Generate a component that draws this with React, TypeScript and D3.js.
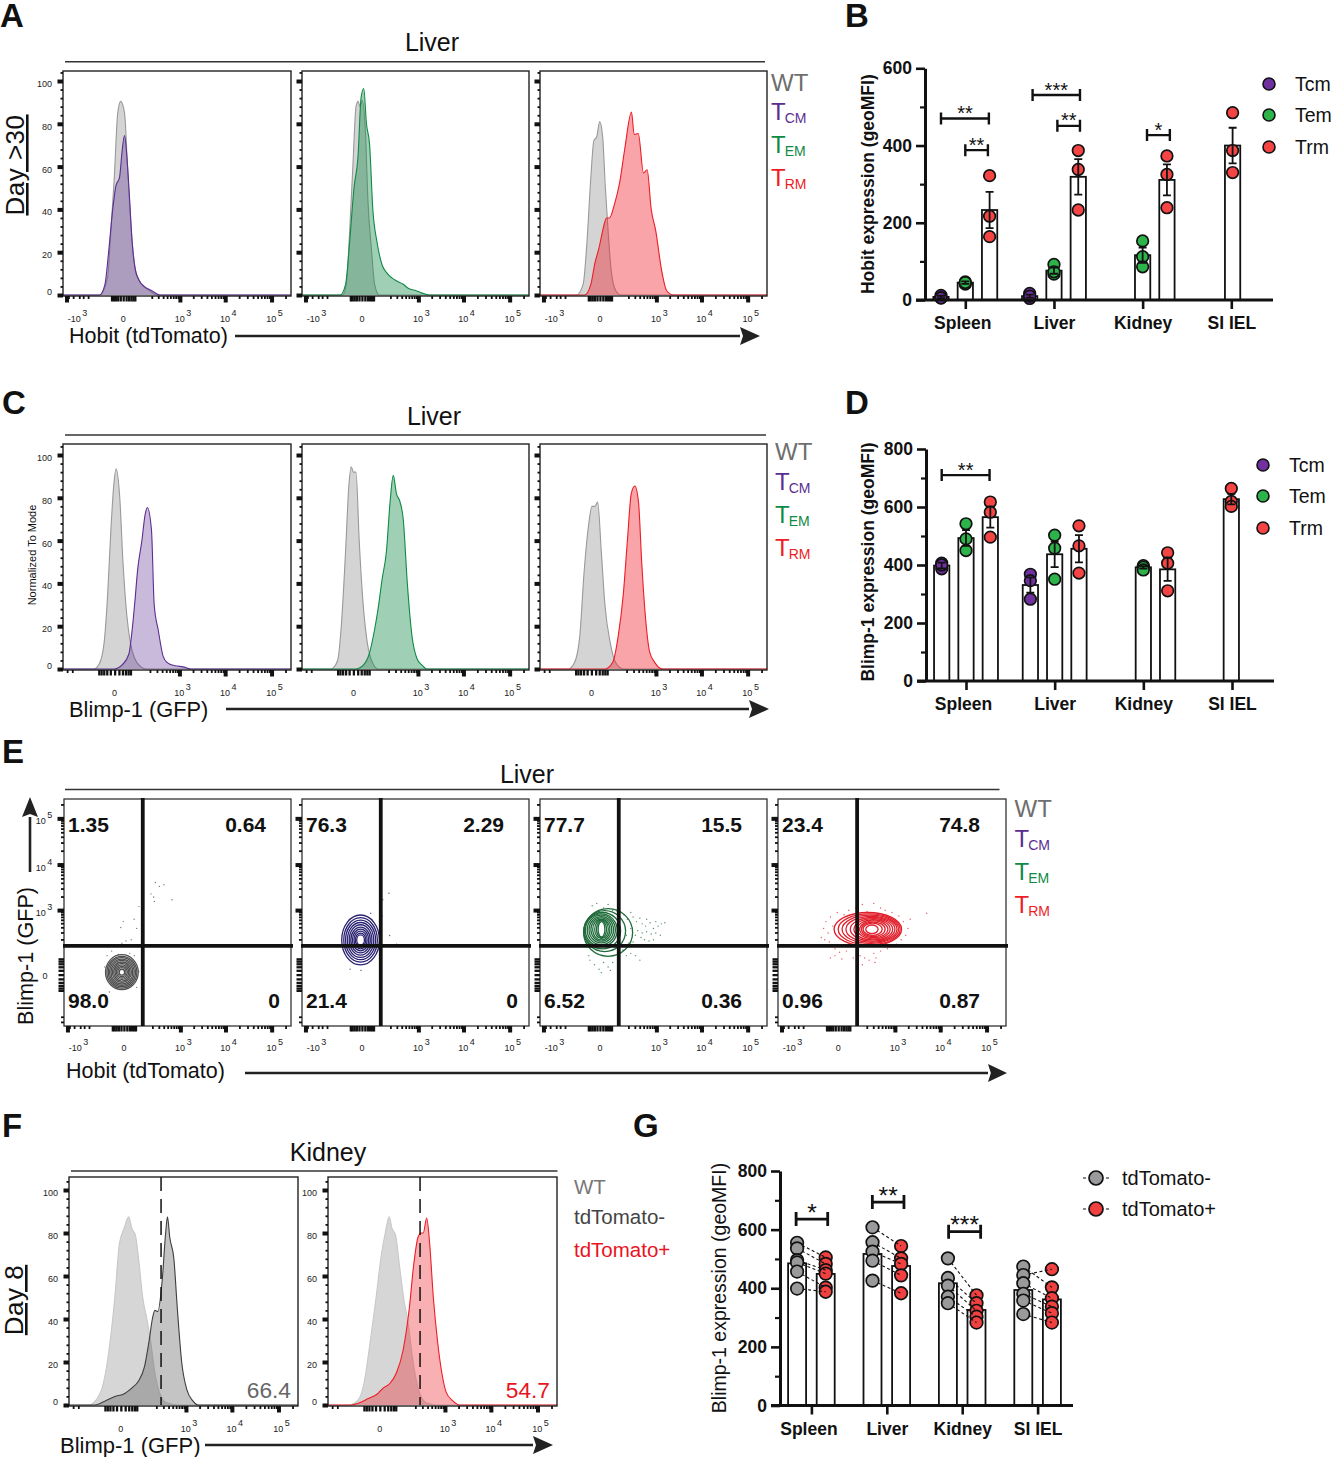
import React, { useEffect, useRef } from 'react'
import * as d3 from 'd3'

const FONT = "'Liberation Sans', Arial, sans-serif"

const WT_COLOR = '#6e6e6e'
const TCM_COLOR = '#5b2d91'
const TEM_COLOR = '#0f8a45'
const TRM_COLOR = '#ee1c25'

// histogram curves: [channel 0-100 along the axis, % of mode]
const aWtTcm = [[0,0],[16,0],[19.5,8],[21,30],[22.5,55],[24,85],[25.3,90.5],[27,85],[28.3,60],[30,30],[31.7,12],[34.5,5],[38,2],[41,0],[100,0]]
const aTcm = [[0,0],[16,0],[18.4,5],[20,20],[21.8,40],[23.2,51],[24.8,55],[26,68],[27,74.5],[28,65],[29.2,45],[30.3,25],[31.7,12],[33.3,7],[35.6,4],[39,2],[42.5,0],[100,0]]
const aWtTem = [[0,0],[18,0],[19.6,6],[21,30],[22.4,60],[23.8,88],[24.7,90.5],[25.6,88],[26.5,91],[28,75],[29,45],[30.7,20],[32,5],[34,0],[100,0]]
const aTem = [[0,0],[16.8,0],[19.2,5],[21,25],[22.9,50],[24.7,65],[26,92],[27.2,96.5],[28.4,80],[29.8,70],[31.2,40],[33,25],[35.3,14],[37.6,10],[41,7],[44.6,5],[47,3],[50.3,2],[52.7,1],[56,0],[100,0]]
const aWtTrm = [[0,0],[16,0],[19,5],[20.7,25],[22.4,55],[23.7,72],[25,74],[26.3,81],[27.6,74],[28.8,50],[30,30],[31.3,12],[33.4,2],[35.7,0],[100,0]]
const aTrm = [[0,0],[19.6,0],[22.4,5],[24.2,15],[26,22],[27.6,30],[29.3,36],[30.6,36],[32.7,42],[35,52],[37.3,68],[40.3,85.5],[41.5,75],[43.3,75.5],[45.6,57],[47.2,58.5],[49,40],[51,30],[53.5,12],[55.8,2],[58.8,0],[100,0]]

const cWtTcm = [[0,0],[13.4,0],[15.7,2],[18,12],[19.6,35],[21,65],[22.2,85],[23.3,93.5],[24.9,80],[26.3,50],[28,25],[29.6,12],[31.4,5],[34.2,1],[36.5,0],[100,0]]
const cTcm = [[0,0],[22.6,0],[26,2],[28.9,7],[30.3,18],[31.4,30],[32.8,47],[34.6,60],[36,72],[37,75.5],[38.8,65],[40,30],[41.8,18],[43.9,6],[45.7,3],[49.2,1.5],[52.6,1],[56,0],[100,0]]
const cWtTem = [[0,0],[12.7,0],[15.7,4],[17.3,20],[19.2,55],[20.6,85],[21.7,94.5],[22.6,92],[23.8,92],[25.2,60],[26.6,35],[28.4,15],[30.3,5],[33.5,0],[100,0]]
const cTem = [[0,0],[23.8,0],[27.2,2],[29.6,7],[31.9,18],[33.5,28],[35.3,42],[37.2,55],[38.8,78],[40.2,90.5],[41.6,82],[43.2,78],[44.6,70],[46.4,40],[48.5,15],[50.6,5],[52.7,2],[55,0],[100,0]]
const cWtTrm = [[0,0],[12.5,0],[15.2,3],[17.5,15],[19.4,45],[21.5,68],[22.9,76],[24.2,76],[25.4,78],[27,55],[28.6,30],[31,12],[33.3,3],[36.7,0],[100,0]]
const cTrm = [[0,0],[28.6,0],[32,3],[34.4,15],[36.7,35],[38.5,60],[40.2,82],[41.8,85.5],[43.4,78],[44.8,50],[46.4,25],[48.3,8],[50.6,3],[54,0],[100,0]]

const fWtNeg = [[0,0],[8.5,0],[12.3,3],[15,10],[18,30],[20,50],[22,75],[24,82],[26.1,87.5],[27.5,82],[29,79],[30.7,65],[32.2,50],[34,40],[35.6,30],[37.5,15],[39.8,5],[42.6,1],[47.3,0],[100,0]]
const fNeg = [[0,0],[11.4,0],[16,2],[20,4],[23.7,5],[27.5,8],[30.3,11],[33,18],[35,30],[36.4,40],[37.5,44],[38.8,43.5],[40.7,58],[42.2,80],[43,87.5],[44,78],[45.8,68],[47.3,45],[49.2,20],[51.5,7],[54,2],[56.4,0],[100,0]]
const fWtPos = [[0,0],[9,0],[12.9,2],[15.7,10],[18.5,30],[21,50],[23.3,70],[25,80],[26.7,87.5],[28,82],[29.5,79],[31.2,65],[33,50],[35,38],[36.9,22],[39.3,8],[43,1],[46.9,0],[100,0]]
const fPos = [[0,0],[10,0],[13.8,1],[17.6,3],[21.4,5],[24.2,8],[27,10],[29.9,15],[32.7,25],[35.5,45],[37.4,65],[39.3,78],[40.6,80],[41.6,80],[43.1,87],[44.4,75],[46,50],[47.8,30],[49.7,15],[51.6,6],[54.4,2],[57.3,0],[100,0]]

// flow axis ticks
const flowDecades = [-1000, 1000, 10000, 100000]
const flowNearZero = [-50, -40, -30, -20, -10, 0, 10, 20, 30, 40, 50]
const flowMinor = [-900, -700, -500, -400, -300, 200, 300, 400, 500, 600, 700, 800, 900, 2000, 3000, 4000, 5000, 6000, 7000, 8000, 9000, 20000, 30000, 40000, 50000, 60000, 70000, 80000, 90000, 200000]
const pctMajor = [0, 20, 40, 60, 80, 100]
const pctMinor = [4, 8, 12, 16, 24, 28, 32, 36, 44, 48, 52, 56, 64, 68, 72, 76, 84, 88, 92, 96, 104]

// quadrant gates and contours: [cx, cy, rx, ry] in axis channels
const gateX = 34.7
const gateY = 35.3
const wtRings = [[25.5,23.7,7.2,7.7],[25.5,23.7,6.6,7],[25.5,23.7,6,6.4],[25.5,23.7,5.4,5.8],[25.5,23.7,4.8,5.2],[25.5,23.7,4.2,4.5],[25.5,23.7,3.6,3.9],[25.5,23.7,3,3.2],[25.5,23.7,2.4,2.6],[25.5,23.7,1.8,2],[25.5,23.7,1.2,1.3]]
const tcmRings = [[25.8,37.9,8.3,11],[25.8,37.9,7.4,9.8],[25.8,37.9,6.6,8.7],[25.8,37.9,5.8,7.7],[25.8,37.9,5,6.7],[25.8,37.9,4.3,5.7],[25.8,37.9,3.6,4.8],[25.8,37.9,2.9,3.9],[25.8,37.9,2.3,3],[25.8,37.9,1.7,2.2]]
const temRings = [[30,41.2,10.8,10.5],[28.5,41.8,9.2,9],[27.5,42,8,8],[27,42.2,7,7.2],[27,42.3,6.2,6.5],[27,42.4,5.4,5.8],[27,42.5,4.6,5.1],[27,42.5,3.8,4.6],[27.1,42.6,3,4.1],[27.1,42.6,2.2,3.7],[27.1,42.6,1.5,3.4]]
const trmRings = [[39.4,42.6,14.8,7.4],[40,42.6,13.6,6.8],[40.5,42.6,12.4,6.2],[41,42.6,11.2,5.7],[41.5,42.6,9.8,5.2],[41.8,42.6,8.5,4.7],[42,42.6,7.2,4.2],[42,42.6,6.2,3.7],[41.8,42.6,5.2,3.2],[41.5,42.6,4.2,2.7],[41.2,42.6,2.7,1.9]]

// outlier events of each contour plot, in axis channels
const wtDots = [[33,52.6],[30.9,47],[26.1,46],[25,43.4],[32,43],[29.6,38],[27.3,37.5],[25.5,36.5],[40.3,63.2],[44,62.2],[42,61.5],[38.3,58.2],[39.8,54.9],[39.5,56.8],[47.6,55.6],[18,26],[19,31],[21,33],[31,31],[33,24],[32,17],[20,15],[24,31.5],[29,32]]
const tcmDots = [[38.3,58.5],[35.6,55.6],[35.3,48.5],[38.6,39.9],[41.7,36],[21.2,25],[30.3,49.7],[26,24.5]]
const temDots = [[37,49],[38.5,47],[40,50],[41,48],[42.5,46],[44,47.5],[45,45],[46.5,44],[47,47],[48.5,45.5],[50,43],[51,46],[52,44],[53.5,45],[55,45.5],[43,42],[45,41],[47,41.5],[49,40.5],[51,41],[53,40],[44.5,39],[46,38],[48,37.5],[50,38],[41,37],[42,40],[40,43],[38,40],[39,36.5],[36.5,33.5],[38,31],[40,32],[42,31],[44,29],[23,53],[25,54],[28,52],[30,53.5],[32,51],[34,50.5],[22,29],[24,27],[26,25],[28,28],[30,26],[32,28],[27,23.5],[31,24.5],[21.5,31]]
const trmDots = [[19,39],[20,43],[21,46],[22,41],[23,48],[24,44],[22.5,37],[24,35],[25,34],[20.5,38],[26,50],[29,49],[31,51],[34,52],[37,53.5],[39,50.5],[42,54],[45,52],[47,51],[50,50],[53,48.5],[55,46],[57,43],[56,40],[58,47],[54,38],[52,36],[65.2,49.7],[25,31],[27,32.5],[30,33],[33,30],[36,31],[38,30],[40,29],[42,32],[43,30],[42.5,28],[37,27],[45,33],[48,34],[23,30],[28,29.5]]

const eTitles = [['1.35', '0.64', '98.0', '0'], ['76.3', '2.29', '21.4', '0'], ['77.7', '15.5', '6.52', '0.36'], ['23.4', '74.8', '0.96', '0.87']]

// bar panels
const organs = ['Spleen', 'Liver', 'Kidney', 'SI IEL']
const subsets = ['Tcm', 'Tem', 'Trm']
const subsetFill = ['#7030a0', '#2cb34a', '#f44444']

const hobitMeans = [[8, 10, null, null], [45, 76, 116, null], [233, 319, 311, 400]]
const hobitErrs = [[3, 4, 0, 0], [3, 8, 20, 0], [47, 46, 40, 46]]
const hobitPoints = [
  [[12, 6, 5], [17, 4, 10], [], []],
  [[47, 41, 45], [92, 67, 73], [153, 112, 86], []],
  [[322, 217, 164], [387, 338, 233], [373, 325, 239], [485, 387, 330]],
]
const hobitBrackets = [
  [0, -1, 0.97, 470, '**'],
  [0, 0, 0.93, 388, '**'],
  [1, -0.88, 1.07, 531, '***'],
  [1, 0.14, 1.07, 451, '**'],
  [2, 0.18, 1.12, 427, '*'],
]

const blimpMeans = [[398, 331, null, null], [493, 437, 392, null], [565, 456, 385, 627]]
const blimpErrs = [[10, 26, 0, 0], [27, 44, 4, 0], [36, 47, 40, 18]]
const blimpPoints = [
  [[406, 387, 400], [368, 346, 282], [], []],
  [[542, 490, 450], [503, 458, 351], [398, 392, 383], []],
  [[617, 582, 496], [535, 466, 372], [442, 406, 311], [664, 619, 602]],
]
const blimpBrackets = [[0, -1, 0.97, 710, '**']]

const pairedNegMeans = [485, 517, 417, 394]
const pairedPosMeans = [449, 476, 326, 362]
const pairedNeg = [[555, 536, 496, 488, 457, 399], [608, 557, 525, 494, 426], [502, 435, 409, 371, 349], [474, 445, 417, 381, 358, 312]]
const pairedPos = [[505, 483, 462, 450, 402, 388], [544, 502, 483, 444, 383], [376, 349, 323, 303, 283], [403, 465, 366, 337, 315, 283]]
const pairedBrackets = [[0, -1.07, 1.14, 636, '*'], [1, -1.01, 1.2, 694, '**'], [2, -0.95, 1.29, 593, '***']]

type Sel = d3.Selection<any, unknown, null, undefined>
type Layer = { data: number[][]; fill: string; fillOpacity: number; stroke: string; strokeWidth?: number }

function addText(g: Sel, x: number, y: number, s: string, size: number, opts: any = {}) {
  const t = g
    .append('text')
    .attr('x', x)
    .attr('y', y)
    .attr('font-family', FONT)
    .attr('font-size', size)
    .attr('font-weight', opts.weight ?? 'normal')
    .attr('fill', opts.fill ?? '#111')
    .attr('text-anchor', opts.anchor ?? 'start')
    .text(s)
  if (opts.rotate) t.attr('transform', `rotate(-90 ${x} ${y})`)
  if (opts.underline) t.attr('text-decoration', 'underline')
  if (opts.spacing) t.attr('letter-spacing', opts.spacing)
  return t
}

function arrow(g: Sel, x0: number, y0: number, x1: number, y1: number, head: number, w: number) {
  const ang = Math.atan2(y1 - y0, x1 - x0)
  const bx = x1 - Math.cos(ang) * head
  const by = y1 - Math.sin(ang) * head
  g.append('line').attr('x1', x0).attr('y1', y0).attr('x2', bx).attr('y2', by).attr('stroke', '#222').attr('stroke-width', 2.6)
  const nx = -Math.sin(ang) * w
  const ny = Math.cos(ang) * w
  const notchx = x1 - Math.cos(ang) * head * 0.85
  const notchy = y1 - Math.sin(ang) * head * 0.85
  g.append('path')
    .attr('d', `M${x1},${y1}L${bx + nx},${by + ny}L${notchx},${notchy}L${bx - nx},${by - ny}Z`)
    .attr('fill', '#222')
}

function rule(g: Sel, x0: number, x1: number, y: number) {
  g.append('line').attr('x1', x0).attr('x2', x1).attr('y1', y).attr('y2', y).attr('stroke', '#333').attr('stroke-width', 1.4)
}

function subsetLegend(g: Sel, x: number, ys: number[]) {
  addText(g, x, ys[0], 'WT', 24, { fill: WT_COLOR })
  const rows = [['CM', TCM_COLOR], ['EM', TEM_COLOR], ['RM', TRM_COLOR]]
  rows.forEach(([sub, color], i) => {
    const t = addText(g, x, ys[i + 1], 'T', 24, { fill: color })
    t.append('tspan').attr('font-size', 14).attr('dy', 3).attr('dx', -1).text(sub)
  })
}

function flowScale(kind: 'wide' | 'narrow', range: number[]) {
  if (kind === 'wide') return d3.scaleSymlog().constant(64).domain([-1200, 262144]).range(range)
  return d3.scaleSymlog().constant(42).domain([-500, 262144]).range(range)
}

function flowAxis(g: Sel, scale: any, side: 'bottom' | 'left', kind: 'wide' | 'narrow') {
  const make = side === 'bottom' ? d3.axisBottom : d3.axisLeft
  const low = kind === 'wide' ? -1200 : -500
  const sets = [
    { values: flowMinor.filter((v) => v > low), size: 3, width: 1.8 },
    { values: flowNearZero, size: 5.5, width: 2.3 },
    { values: flowDecades.filter((v) => v > low), size: 6.5, width: 4 },
  ]
  sets.forEach((s) => {
    const a = g.append('g').call(
      make(scale)
        .tickValues(s.values)
        .tickSize(s.size)
        .tickFormat(() => '') as any
    )
    a.select('.domain').remove()
    a.selectAll('line').attr('stroke', '#111').attr('stroke-width', s.width)
  })
}

function powerLabel(g: Sel, x: number, y: number, base: string, exp: string) {
  const t = addText(g, x, y, base, 9, { anchor: 'middle', fill: '#222' })
  t.append('tspan').attr('dx', 1.5).attr('dy', -6).text(exp)
}

function flowLabels(g: Sel, scale: any, kind: 'wide' | 'narrow', y: number) {
  if (kind === 'wide') powerLabel(g, scale(-1000) + 11, y, '-10', '3')
  addText(g, scale(0), y, '0', 9, { anchor: 'middle', fill: '#222' })
  powerLabel(g, scale(1000) + 3, y, '10', '3')
  powerLabel(g, scale(10000) + 3, y, '10', '4')
  powerLabel(g, scale(100000) + 3, y, '10', '5')
}

function pctAxis(g: Sel, y: any, labels: boolean, labelRight: number) {
  const minor = g.append('g').call(d3.axisLeft(y).tickValues(pctMinor).tickSize(2.5).tickFormat(() => '') as any)
  minor.select('.domain').remove()
  minor.selectAll('line').attr('stroke', '#111').attr('stroke-width', 1.8)
  const major = g.append('g').call(d3.axisLeft(y).tickValues(pctMajor).tickSize(5.5).tickFormat(() => '') as any)
  major.select('.domain').remove()
  major.selectAll('line').attr('stroke', '#111').attr('stroke-width', 4)
  if (labels) {
    pctMajor.forEach((v) => {
      addText(g, labelRight, y(v) + (v === 0 ? 0 : 6), String(v), 9, { anchor: 'end', fill: '#222' })
    })
  }
}

function histogram(root: Sel, box: any, layers: Layer[], kind: 'wide' | 'narrow', yLabels: boolean) {
  const g = root.append('g')
  const bottom = box.zero + 1
  const x = d3.scaleLinear().domain([0, 100]).range([box.x0, box.x1])
  const y = d3.scaleLinear().domain([0, 100]).range([box.zero, box.zero - box.h100])
  const area = d3.area<number[]>().x((d) => x(d[0])).y0(y(0)).y1((d) => y(d[1])).curve(d3.curveMonotoneX)
  const line = d3.line<number[]>().x((d) => x(d[0])).y((d) => y(d[1])).curve(d3.curveMonotoneX)

  g.append('rect').attr('x', box.x0).attr('y', box.top).attr('width', box.x1 - box.x0).attr('height', bottom - box.top).attr('fill', '#fff')
  layers.forEach((l) => {
    g.append('path').attr('d', area(l.data)).attr('fill', l.fill).attr('fill-opacity', l.fillOpacity)
    g.append('path').attr('d', line(l.data)).attr('fill', 'none').attr('stroke', l.stroke).attr('stroke-width', l.strokeWidth ?? 1.1)
  })
  g.append('rect').attr('x', box.x0).attr('y', box.top).attr('width', box.x1 - box.x0).attr('height', bottom - box.top).attr('fill', 'none').attr('stroke', '#222').attr('stroke-width', 1.4)

  const fx = flowScale(kind, [box.x0, box.x1])
  const bottomAxis = g.append('g').attr('transform', `translate(0,${bottom})`)
  flowAxis(bottomAxis, fx, 'bottom', kind)
  const leftAxis = g.append('g').attr('transform', `translate(${box.x0},0)`)
  pctAxis(leftAxis, y, yLabels, -11)
  flowLabels(g, fx, kind, box.zero + 27)
  return { x, y }
}

function contourPlot(root: Sel, box: any, rings: number[][], dots: number[][], color: string, titles: string[], yLabels: boolean) {
  const g = root.append('g')
  const x = d3.scaleLinear().domain([0, 100]).range([box.x0, box.x1])
  const y = d3.scaleLinear().domain([0, 100]).range([box.y1, box.y0])
  g.append('rect').attr('x', box.x0).attr('y', box.y0).attr('width', box.x1 - box.x0).attr('height', box.y1 - box.y0).attr('fill', '#fff').attr('stroke', '#333').attr('stroke-width', 1.3)

  g.selectAll('circle.dot')
    .data(dots)
    .join('circle')
    .attr('cx', (d) => x(d[0]))
    .attr('cy', (d) => y(d[1]))
    .attr('r', 0.7)
    .attr('fill', color)
    .attr('fill-opacity', 0.75)
  rings.forEach((r, i) => {
    g.append('ellipse')
      .attr('cx', x(r[0]))
      .attr('cy', y(r[1]))
      .attr('rx', x(r[0] + r[2]) - x(r[0]))
      .attr('ry', y(r[1]) - y(r[1] + r[3]))
      .attr('fill', i === rings.length - 1 ? '#fff' : 'none')
      .attr('stroke', color)
      .attr('stroke-width', 1.3)
  })

  g.append('line').attr('x1', x(gateX)).attr('x2', x(gateX)).attr('y1', box.y0 - 1).attr('y2', box.y1).attr('stroke', '#111').attr('stroke-width', 3.8)
  g.append('line').attr('x1', box.x0 - 1).attr('x2', box.x1 + 2).attr('y1', y(gateY)).attr('y2', y(gateY)).attr('stroke', '#111').attr('stroke-width', 3.8)

  const fx = flowScale('wide', [box.x0, box.x1])
  const fy = flowScale('narrow', [box.y1, box.y0])
  const bottomAxis = g.append('g').attr('transform', `translate(0,${box.y1})`)
  flowAxis(bottomAxis, fx, 'bottom', 'wide')
  const leftAxis = g.append('g').attr('transform', `translate(${box.x0},0)`)
  flowAxis(leftAxis, fy, 'left', 'narrow')
  flowLabels(g, fx, 'wide', box.y1 + 25)
  if (yLabels) {
    powerLabel(g, box.x0 - 20, fy(100000) + 6, '10', '5')
    powerLabel(g, box.x0 - 20, fy(10000) + 6, '10', '4')
    powerLabel(g, box.x0 - 20, fy(1000) + 6, '10', '3')
    addText(g, box.x0 - 19, fy(0) + 4, '0', 9, { anchor: 'middle', fill: '#222' })
  }

  const upperY = box.y0 + 32.5
  const lowerY = box.y0 + 208.5
  const opt = { weight: 'bold' }
  addText(g, box.x0 + 4, upperY, titles[0], 21, opt)
  addText(g, box.x0 + 202, upperY, titles[1], 21, { ...opt, anchor: 'end' })
  addText(g, box.x0 + 4, lowerY, titles[2], 21, opt)
  const lowerRight = titles[3] === '0' ? box.x0 + 216 : box.x0 + 202
  addText(g, lowerRight, lowerY, titles[3], 21, { ...opt, anchor: 'end' })
}

function yAxisBold(g: Sel, y: any, major: number[], minor: number[], x0: number, weight: string) {
  const mn = g.append('g').attr('transform', `translate(${x0},0)`).call(d3.axisLeft(y).tickValues(minor).tickSize(5).tickFormat(() => '') as any)
  mn.select('.domain').remove()
  mn.selectAll('line').attr('stroke', '#111').attr('stroke-width', 2.2)
  const mj = g.append('g').attr('transform', `translate(${x0},0)`).call(d3.axisLeft(y).tickValues(major).tickSize(9).tickPadding(4).tickSizeOuter(0) as any)
  mj.select('.domain').attr('stroke', '#111').attr('stroke-width', 3)
  mj.selectAll('line').attr('stroke', '#111').attr('stroke-width', 2.6)
  mj.selectAll('text').attr('font-family', FONT).attr('font-size', 17.5).attr('font-weight', weight).attr('fill', '#111')
}

function xAxisBold(g: Sel, x: any, y0: number, x0: number, x1: number) {
  const a = g.append('g').attr('transform', `translate(0,${y0})`).call(d3.axisBottom(x).tickSize(9).tickPadding(8) as any)
  a.select('.domain').remove()
  a.selectAll('line').attr('stroke', '#111').attr('stroke-width', 2.6)
  a.selectAll('text')
    .attr('font-family', FONT)
    .attr('font-size', 17.5)
    .attr('font-weight', 'bold')
    .attr('fill', '#111')
    .attr('dx', (d: any) => (d === 'Spleen' ? -3 : 0))
  g.append('line').attr('x1', x0).attr('x2', x1).attr('y1', y0).attr('y2', y0).attr('stroke', '#111').attr('stroke-width', 3)
}

function brackets(g: Sel, rows: any[], x: any, slot: any, y: any, capH: number, starSize: number, width: number) {
  rows.forEach(([gi, a, b, v, label]) => {
    const cx = x(organs[gi])
    const xa = cx + slot(a)
    const xb = cx + slot(b)
    const yy = y(v)
    g.append('path')
      .attr('d', `M${xa},${yy - capH}V${yy + capH}M${xa},${yy}H${xb}M${xb},${yy - capH}V${yy + capH}`)
      .attr('fill', 'none')
      .attr('stroke', '#111')
      .attr('stroke-width', width)
    addText(g, (xa + xb) / 2, yy + 1.6, label, starSize, { anchor: 'middle' })
  })
}

function subsetBars(root: Sel, cfg: any) {
  const g = root.append('g')
  const y = d3.scaleLinear().domain([0, cfg.max]).range([cfg.y0, cfg.y1])
  const x = d3.scalePoint<string>().domain(organs).range([cfg.xa, cfg.xb])
  const slot = d3.scaleLinear().domain([-1, 1]).range([-24.3, 24.3])
  const pos = (series: number, group: number) => x(organs[group])! + (group === 3 ? cfg.siNudge : slot(series - 1))
  const barW = 15.3

  yAxisBold(g, y, cfg.major, cfg.minor, cfg.axisX, 'bold')

  cfg.means.forEach((row: (number | null)[], s: number) => {
    row.forEach((m, i) => {
      if (m == null) return
      g.append('rect').attr('x', pos(s, i) - barW / 2).attr('y', y(m)).attr('width', barW).attr('height', cfg.y0 - y(m)).attr('fill', '#fff').attr('stroke', '#111').attr('stroke-width', 1.8)
    })
  })
  cfg.points.forEach((groupRows: number[][], s: number) => {
    groupRows.forEach((pts, i) => {
      g.selectAll(null)
        .data(pts)
        .join('circle')
        .attr('cx', pos(s, i))
        .attr('cy', (d) => y(d))
        .attr('r', 5.8)
        .attr('fill', subsetFill[s])
        .attr('stroke', '#111')
        .attr('stroke-width', 1.7)
    })
  })
  cfg.means.forEach((row: (number | null)[], s: number) => {
    row.forEach((m, i) => {
      if (m == null) return
      const e = cfg.errs[s][i]
      const px = pos(s, i)
      g.append('path')
        .attr('d', `M${px - 4},${y(m + e)}H${px + 4}M${px},${y(m + e)}V${y(m - e)}M${px - 4},${y(m - e)}H${px + 4}`)
        .attr('fill', 'none')
        .attr('stroke', '#111')
        .attr('stroke-width', 1.8)
    })
  })

  xAxisBold(g, x, cfg.y0, cfg.axisX - 9, cfg.axisEnd)
  brackets(g, cfg.brackets, x, slot, y, 6, 20, 2.4)

  addText(g, cfg.titleX, (cfg.y0 + cfg.y1) / 2 + cfg.titleDy, cfg.title, 17.5, { weight: 'bold', rotate: true, anchor: 'middle' })

  subsets.forEach((name, i) => {
    g.append('circle').attr('cx', cfg.legendX).attr('cy', cfg.legendY[i]).attr('r', 6).attr('fill', subsetFill[i]).attr('stroke', '#111').attr('stroke-width', 1.6)
    addText(g, cfg.legendX + 26, cfg.legendY[i] + 6.5, name, 19.5)
  })
}

function pairedBars(root: Sel) {
  const g = root.append('g')
  const y0 = 1405.5
  const y = d3.scaleLinear().domain([0, 800]).range([y0, 1171])
  const x = d3.scalePoint<string>().domain(organs).range([811.4, 1037.6])
  const slot = d3.scaleLinear().domain([-1, 1]).range([-14.3, 14.3])
  const barW = 18

  yAxisBold(g, y, [0, 200, 400, 600, 800], [100, 300, 500, 700], 780, 'bold')

  organs.forEach((name, i) => {
    const cx = x(name)!
    ;[pairedNegMeans[i], pairedPosMeans[i]].forEach((m, k) => {
      const px = cx + slot(k === 0 ? -1 : 1)
      g.append('rect').attr('x', px - barW / 2).attr('y', y(m)).attr('width', barW).attr('height', y0 - y(m)).attr('fill', '#fff').attr('stroke', '#111').attr('stroke-width', 1.8)
    })
    const xn = cx + slot(-1)
    const xp = cx + slot(1)
    g.selectAll(null).data(pairedPos[i]).join('circle').attr('cx', xp).attr('cy', (d) => y(d)).attr('r', 6.3).attr('fill', '#f04040').attr('stroke', '#111').attr('stroke-width', 1.7)
    g.selectAll(null).data(pairedNeg[i]).join('line')
      .attr('x1', xn).attr('x2', xp)
      .attr('y1', (d) => y(d))
      .attr('y2', (_, k) => y(pairedPos[i][k]))
      .attr('stroke', '#111').attr('stroke-width', 1.1).attr('stroke-dasharray', '3 2.5')
    g.selectAll(null).data(pairedNeg[i]).join('circle').attr('cx', xn).attr('cy', (d) => y(d)).attr('r', 6.3).attr('fill', '#9a9a9c').attr('stroke', '#111').attr('stroke-width', 1.7)
  })

  xAxisBold(g, x, y0, 771, 1073)
  brackets(g, pairedBrackets, x, slot, y, 7, 24.5, 2.8)

  addText(g, 726, 1288, 'Blimp-1 expression (geoMFI)', 19.5, { rotate: true, anchor: 'middle' })

  const legend = [['tdTomato-', '#9a9a9c', 1178], ['tdTomato+', '#f04040', 1209]] as [string, string, number][]
  legend.forEach(([name, color, ly]) => {
    g.append('line').attr('x1', 1083).attr('x2', 1109).attr('y1', ly).attr('y2', ly).attr('stroke', '#111').attr('stroke-width', 1).attr('stroke-dasharray', '3 20')
    g.append('circle').attr('cx', 1096).attr('cy', ly).attr('r', 7).attr('fill', color).attr('stroke', '#111').attr('stroke-width', 1.7)
    addText(g, 1122, ly + 6.5, name, 20)
  })
}

const App: React.FC = () => {
  const svgRef = useRef<SVGSVGElement>(null)

  useEffect(() => {
    const svg: Sel = d3.select(svgRef.current!)
    svg.selectAll('*').remove()

    const panelLetters = [['A', 0, 27], ['B', 845, 27], ['C', 2, 414], ['D', 845, 414], ['E', 2, 763], ['F', 2, 1137], ['G', 633, 1137]] as [string, number, number][]
    panelLetters.forEach(([s, x, y]) => addText(svg, x, y, s, 33, { weight: 'bold', fill: '#111' }))

    const wtFill = (data: number[][]): Layer => ({ data, fill: '#bdbdbd', fillOpacity: 0.65, stroke: '#999' })
    const sub = (data: number[][], c: string, o = 0.4): Layer => ({ data, fill: c, fillOpacity: o, stroke: c })
    const xSlots = [[63, 291], [302, 529], [540, 767]]

    // A
    addText(svg, 432, 51, 'Liver', 25, { anchor: 'middle' })
    rule(svg, 65, 765, 61.7)
    const aLayers = [[wtFill(aWtTcm), sub(aTcm, TCM_COLOR, 0.33)], [wtFill(aWtTem), sub(aTem, TEM_COLOR)], [wtFill(aWtTrm), sub(aTrm, TRM_COLOR)]]
    aLayers.forEach((l, i) => histogram(svg, { x0: xSlots[i][0], x1: xSlots[i][1], top: 71, zero: 295, h100: 214 }, l, 'wide', i === 0))
    addText(svg, 69, 343, 'Hobit (tdTomato)', 21.5)
    arrow(svg, 235, 336, 760, 336, 20, 9)
    addText(svg, 24, 165, 'Day >30', 26, { rotate: true, anchor: 'middle', underline: true, spacing: 0.5 })
    subsetLegend(svg, 771, [91, 120, 153, 186])

    // C
    addText(svg, 434, 425, 'Liver', 25, { anchor: 'middle' })
    rule(svg, 65, 766, 435)
    const cLayers = [[wtFill(cWtTcm), sub(cTcm, TCM_COLOR, 0.33)], [wtFill(cWtTem), sub(cTem, TEM_COLOR)], [wtFill(cWtTrm), sub(cTrm, TRM_COLOR)]]
    cLayers.forEach((l, i) => histogram(svg, { x0: xSlots[i][0], x1: xSlots[i][1], top: 444, zero: 669, h100: 214 }, l, 'narrow', i === 0))
    addText(svg, 36, 555, 'Normalized To Mode', 11, { rotate: true, anchor: 'middle' })
    addText(svg, 69, 717, 'Blimp-1 (GFP)', 21.8)
    arrow(svg, 226, 709, 769, 709, 20, 9)
    subsetLegend(svg, 775, [459.5, 490, 523, 556])

    // B, D
    subsetBars(svg, {
      max: 600, y0: 300, y1: 68.3, xa: 965.3, xb: 1231.3, siNudge: 1.3, axisX: 925, axisEnd: 1273,
      major: [0, 200, 400, 600], minor: [100, 300, 500],
      means: hobitMeans, errs: hobitErrs, points: hobitPoints, brackets: hobitBrackets,
      title: 'Hobit expression (geoMFI)', titleX: 874, titleDy: 0, legendX: 1269, legendY: [84, 115, 147],
    })
    subsetBars(svg, {
      max: 800, y0: 681, y1: 449, xa: 966, xb: 1232, siNudge: -0.7, axisX: 926, axisEnd: 1274,
      major: [0, 200, 400, 600, 800], minor: [100, 300, 500, 700],
      means: blimpMeans, errs: blimpErrs, points: blimpPoints, brackets: blimpBrackets,
      title: 'Blimp-1 expression (geoMFI)', titleX: 874, titleDy: -3, legendX: 1263, legendY: [465, 496, 528],
    })

    // E
    addText(svg, 527, 783, 'Liver', 25, { anchor: 'middle' })
    rule(svg, 65, 999.5, 789.5)
    const eBoxes = [[64, 291], [302, 529], [540, 767], [778, 1006]]
    const eRings = [wtRings, tcmRings, temRings, trmRings]
    const eDots = [wtDots, tcmDots, temDots, trmDots]
    const eColors = ['#4f4f4f', '#2a2270', '#1f6b3a', '#e0202c']
    eBoxes.forEach((b, i) => {
      contourPlot(svg, { x0: b[0], x1: b[1], y0: 799, y1: 1026 }, eRings[i], eDots[i], eColors[i], eTitles[i], i === 0)
    })
    addText(svg, 66, 1078, 'Hobit (tdTomato)', 21.5)
    arrow(svg, 245, 1073, 1007, 1073, 19, 9)
    arrow(svg, 30, 872, 30, 797, 20, 8)
    addText(svg, 33, 956, 'Blimp-1 (GFP)', 21.6, { rotate: true, anchor: 'middle' })
    subsetLegend(svg, 1014.5, [816.7, 847, 880, 912.7])

    // F
    addText(svg, 328, 1161, 'Kidney', 25, { anchor: 'middle' })
    rule(svg, 71, 557.5, 1171)
    const fLight: (d: number[][]) => Layer = (data) => ({ data, fill: '#c4c4c4', fillOpacity: 0.7, stroke: '#c8c8c8' })
    const fPanels: [number[], Layer[], string, string][] = [
      [[69, 298], [fLight(fWtNeg), { data: fNeg, fill: '#555', fillOpacity: 0.35, stroke: '#3e3e3e' }], '66.4', '#666'],
      [[328, 557], [fLight(fWtPos), { data: fPos, fill: TRM_COLOR, fillOpacity: 0.35, stroke: TRM_COLOR }], '54.7', '#e8141e'],
    ]
    fPanels.forEach(([b, layers, pct, color]) => {
      const { x } = histogram(svg, { x0: b[0], x1: b[1], top: 1177, zero: 1405, h100: 215 }, layers, 'narrow', true)
      svg.append('line').attr('x1', x(40.2)).attr('x2', x(40.2)).attr('y1', 1177).attr('y2', 1405).attr('stroke', '#111').attr('stroke-width', 1.5).attr('stroke-dasharray', '14 8')
      addText(svg, b[1] - 7, 1398, pct, 22.7, { anchor: 'end', fill: color })
    })
    addText(svg, 60, 1453, 'Blimp-1 (GFP)', 22)
    arrow(svg, 205, 1445, 553, 1445, 20, 9)
    addText(svg, 23, 1300, 'Day 8', 26, { rotate: true, anchor: 'middle', underline: true, spacing: 0.5 })
    addText(svg, 574, 1194, 'WT', 20.5, { fill: '#777' })
    addText(svg, 574, 1224, 'tdTomato-', 20.5, { fill: '#444' })
    addText(svg, 574, 1257, 'tdTomato+', 20.5, { fill: '#e8141e' })

    // G
    pairedBars(svg)
  }, [])

  return (
    <svg
      ref={svgRef}
      width={1333}
      height={1457}
      viewBox="0 0 1333 1457"
      style={{ position: 'absolute', left: 0, top: 0, background: '#fff' }}
    />
  )
}

export default App
